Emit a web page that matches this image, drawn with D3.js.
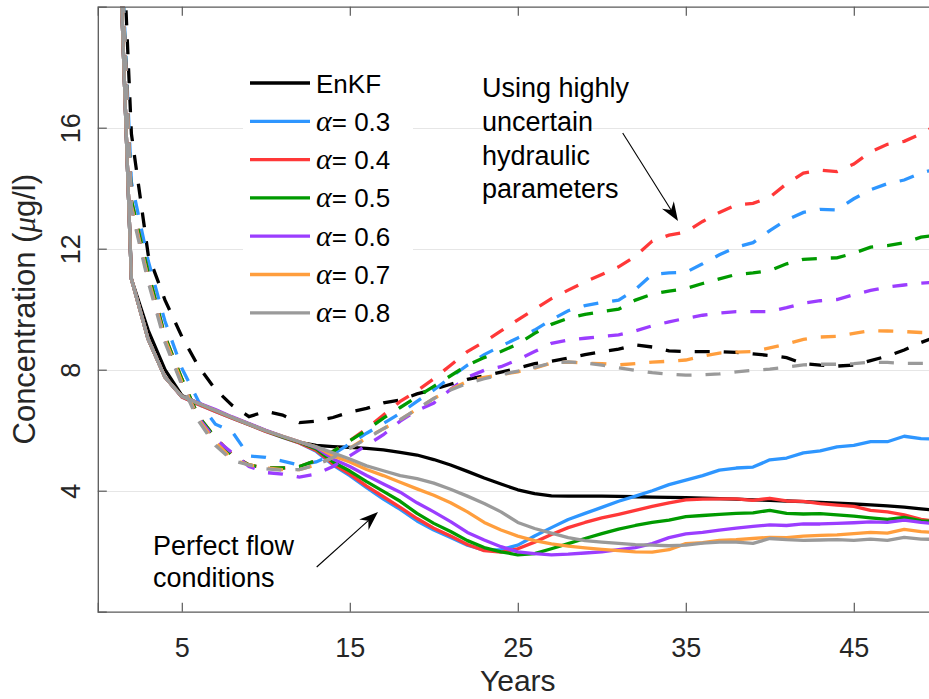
<!DOCTYPE html>
<html>
<head>
<meta charset="utf-8">
<script src="https://cdn.jsdelivr.net/npm/d3@7"></script>
<style>
  html, body { margin: 0; padding: 0; background: #fff; }
  svg { display: block; font-family: "Liberation Sans", Arial, Helvetica, sans-serif; }
</style>
</head>
<body>
<svg id="chart" width="929" height="699"></svg>
<script>
// ---------------- data ----------------
const years = [1,2,3,4,5,6,7,8,9,10,11,12,13,14,15,16,17,18,19,20,21,22,23,24,25,26,27,28,29,30,31,32,33,34,35,36,37,38,39,40,41,42,43,44,45,46,47,48,49,50];

const xTicks = [5, 15, 25, 35, 45];
const yTicks = [4, 8, 12, 16];

const seriesNames = ["EnKF", "α= 0.3", "α= 0.4", "α= 0.5", "α= 0.6", "α= 0.7", "α= 0.8"];
const seriesColors = ["#000000", "#2e96ff", "#ff3838", "#009a00", "#9b3dff", "#ff9e3d", "#9a9a9a"];

// perfect flow conditions (solid)
const enkfPerfect = [26.7,11.0,9.3,8.0,7.15,6.88,6.65,6.42,6.2,5.98,5.78,5.6,5.5,5.46,5.43,5.4,5.35,5.27,5.18,5.03,4.85,4.64,4.42,4.22,4.03,3.9,3.83,3.82,3.82,3.82,3.81,3.8,3.79,3.78,3.77,3.75,3.74,3.72,3.7,3.68,3.66,3.64,3.61,3.59,3.56,3.53,3.5,3.46,3.4,3.35];
const a03Perfect = [26.7,11.0,9.0,7.75,7.1,6.85,6.62,6.4,6.18,5.96,5.76,5.58,5.3,4.85,4.5,4.1,3.72,3.38,3.0,2.7,2.45,2.2,2.03,2.05,2.2,2.5,2.78,3.05,3.25,3.45,3.65,3.82,4.0,4.2,4.35,4.5,4.68,4.75,4.78,5.02,5.08,5.25,5.32,5.45,5.5,5.62,5.62,5.8,5.72,5.7];
const a04Perfect = [26.7,11.0,9.0,7.75,7.1,6.85,6.62,6.4,6.18,5.96,5.77,5.58,5.33,4.88,4.55,4.15,3.8,3.45,3.08,2.76,2.5,2.22,2.02,1.97,2.08,2.3,2.55,2.78,2.95,3.1,3.22,3.35,3.48,3.6,3.7,3.72,3.73,3.73,3.68,3.75,3.66,3.65,3.57,3.52,3.48,3.35,3.3,3.2,3.05,2.98];
const a05Perfect = [26.7,11.0,9.0,7.75,7.12,6.88,6.65,6.42,6.2,5.98,5.78,5.6,5.38,4.95,4.65,4.3,3.98,3.65,3.25,2.92,2.65,2.35,2.12,1.98,1.88,1.92,2.08,2.25,2.42,2.58,2.73,2.85,2.95,3.03,3.14,3.18,3.22,3.25,3.27,3.35,3.25,3.23,3.24,3.2,3.16,3.1,3.05,3.12,3.0,2.98];
const a06Perfect = [26.7,11.0,9.0,7.75,7.12,6.9,6.68,6.44,6.22,6.0,5.8,5.62,5.42,5.05,4.8,4.5,4.22,3.95,3.6,3.3,2.98,2.62,2.37,2.15,1.98,1.92,1.88,1.9,1.94,1.98,2.05,2.12,2.25,2.45,2.57,2.62,2.7,2.76,2.82,2.87,2.85,2.9,2.9,2.92,2.94,2.97,2.95,3.03,2.95,2.9];
const a07Perfect = [26.7,11.0,9.0,7.75,7.12,6.88,6.65,6.42,6.2,5.98,5.8,5.62,5.45,5.15,4.95,4.7,4.5,4.28,4.06,3.85,3.6,3.3,2.95,2.7,2.5,2.35,2.24,2.17,2.11,2.06,2.02,1.98,1.97,2.05,2.25,2.28,2.36,2.38,2.42,2.46,2.45,2.5,2.52,2.54,2.58,2.62,2.6,2.72,2.65,2.61];
const a08Perfect = [26.7,11.0,9.0,7.75,7.12,6.88,6.65,6.42,6.2,5.98,5.8,5.62,5.45,5.25,5.05,4.82,4.66,4.5,4.4,4.25,4.05,3.82,3.58,3.3,2.95,2.75,2.6,2.45,2.35,2.3,2.26,2.22,2.2,2.18,2.2,2.27,2.3,2.3,2.26,2.42,2.38,2.36,2.37,2.38,2.36,2.4,2.36,2.46,2.4,2.39];

// highly uncertain hydraulic parameters (dashed)
const enkfUncertain = [28.5,15.8,11.8,10.3,9.1,8.1,7.35,6.82,6.45,6.62,6.5,6.25,6.3,6.42,6.6,6.72,6.9,7.0,7.2,7.35,7.52,7.68,7.8,7.92,8.05,8.2,8.28,8.38,8.5,8.6,8.68,8.82,8.75,8.62,8.6,8.6,8.6,8.57,8.52,8.47,8.4,8.2,8.15,8.12,8.15,8.3,8.45,8.65,8.9,9.1];
const a03Uncertain = [27,14.2,11.6,9.6,8.05,6.95,6.2,5.95,5.15,5.1,4.98,4.85,4.95,5.2,5.55,5.9,6.22,6.56,6.95,7.33,7.75,8.15,8.5,8.78,9.05,9.31,9.65,9.95,10.12,10.22,10.3,10.65,11.15,11.2,11.22,11.5,11.8,12.05,12.2,12.6,12.95,13.2,13.3,13.28,13.65,13.95,14.15,14.27,14.5,14.65];
const a04Uncertain = [27,13.6,11.2,9.1,7.7,6.45,5.75,5.2,4.85,4.75,4.75,4.8,5.0,5.3,5.65,6.05,6.5,6.95,7.3,7.7,8.15,8.6,8.92,9.28,9.65,10.0,10.35,10.63,10.9,11.15,11.4,11.75,12.25,12.45,12.55,12.9,13.2,13.45,13.5,13.7,14.15,14.5,14.6,14.55,14.8,15.2,15.45,15.55,15.8,16.1];
const a05Uncertain = [27,13.6,11.2,9.1,7.7,6.45,5.75,5.15,4.85,4.75,4.75,4.8,5.0,5.3,5.65,6.0,6.4,6.75,7.1,7.45,7.8,8.15,8.4,8.6,8.85,9.2,9.5,9.7,9.83,9.92,10.0,10.3,10.5,10.6,10.68,10.85,11.0,11.15,11.2,11.28,11.5,11.65,11.68,11.7,11.85,12.05,12.1,12.2,12.38,12.45];
const a06Uncertain = [27,13.4,11.0,9.0,7.55,6.4,5.7,5.25,4.8,4.6,4.55,4.45,4.55,4.8,5.15,5.5,5.85,6.3,6.65,6.9,7.35,7.75,7.98,8.1,8.33,8.6,8.87,8.98,9.04,9.1,9.15,9.28,9.45,9.58,9.7,9.8,9.87,9.92,9.92,9.92,10.05,10.2,10.28,10.32,10.48,10.62,10.73,10.8,10.86,10.9];
const a07Uncertain = [27,13.4,11.0,9.0,7.6,6.35,5.6,5.05,4.85,4.75,4.7,4.7,4.85,5.1,5.4,5.75,6.05,6.35,6.7,7.05,7.35,7.62,7.75,7.84,7.93,8.05,8.22,8.25,8.22,8.2,8.16,8.2,8.25,8.28,8.32,8.45,8.55,8.58,8.6,8.72,8.85,9.0,9.08,9.1,9.2,9.29,9.28,9.26,9.23,9.22];
const a08Uncertain = [27,13.3,10.9,8.9,7.5,6.3,5.5,5.0,4.85,4.72,4.68,4.7,4.85,5.1,5.4,5.72,6.05,6.35,6.7,7.05,7.33,7.55,7.7,7.84,7.95,8.08,8.22,8.26,8.22,8.15,8.06,7.98,7.9,7.85,7.82,7.83,7.86,7.93,7.98,8.02,8.08,8.16,8.18,8.18,8.2,8.25,8.24,8.21,8.21,8.21];

const perfectSeries = [enkfPerfect, a03Perfect, a04Perfect, a05Perfect, a06Perfect, a07Perfect, a08Perfect];
const uncertainSeries = [enkfUncertain, a03Uncertain, a04Uncertain, a05Uncertain, a06Uncertain, a07Uncertain, a08Uncertain];

const annotationTop = ["Using highly", "uncertain", "hydraulic", "parameters"];
const annotationBottom = ["Perfect flow", "conditions"];

// ---------------- layout ----------------
const svg = d3.select("#chart");
const W = 929, H = 699;
const plot = { left: 97.8, right: 937.8, top: 6.7, bottom: 611.7 };
const textColor = "#262626";
const axisColor = "#5a5a5a";

svg.append("rect").attr("width", W).attr("height", H).attr("fill", "#fff");

const x = d3.scaleLinear().domain([0, 50]).range([plot.left, plot.right]);
const y = d3.scaleLinear().domain([0, 20]).range([plot.bottom, plot.top]);

// grid lines (horizontal)
svg.append("g").selectAll("line").data(yTicks).join("line")
  .attr("x1", plot.left).attr("x2", plot.right)
  .attr("y1", d => Math.round(y(d)) + 0.5).attr("y2", d => Math.round(y(d)) + 0.5)
  .attr("stroke", "#e6e6e6").attr("stroke-width", 1.2);

// clip
svg.append("defs").append("clipPath").attr("id", "clip")
  .append("rect").attr("x", plot.left).attr("y", plot.top)
  .attr("width", plot.right - plot.left).attr("height", plot.bottom - plot.top);

const lineGen = d3.line().x((d, i) => x(years[i])).y(d => y(d));

const gLines = svg.append("g").attr("clip-path", "url(#clip)");
const lw = 3.3;
for (let s = 0; s < perfectSeries.length; s++) {
  gLines.append("path").datum(perfectSeries[s])
    .attr("d", lineGen).attr("fill", "none")
    .attr("stroke", seriesColors[s]).attr("stroke-width", lw)
    .attr("stroke-linejoin", "round");
  gLines.append("path").datum(uncertainSeries[s])
    .attr("d", lineGen).attr("fill", "none")
    .attr("stroke", seriesColors[s]).attr("stroke-width", lw)
    .attr("stroke-dasharray", "15,14");
}

// axes (box with inward ticks)
const gAxes = svg.append("g");
const xb = d3.axisBottom(x).tickValues(xTicks).tickSize(-9).tickPadding(16).tickFormat(d3.format("d"));
const gx = gAxes.append("g").attr("transform", `translate(0,${plot.bottom})`).call(xb);
const xt = d3.axisTop(x).tickValues(xTicks).tickSize(-9).tickFormat("");
const gxt = gAxes.append("g").attr("transform", `translate(0,${plot.top})`).call(xt);
const yl = d3.axisLeft(y).tickValues(yTicks).tickSize(-9).tickFormat(d3.format("d"));
const gy = gAxes.append("g").attr("transform", `translate(${plot.left},0)`).call(yl);

[gx, gxt, gy].forEach(g => {
  g.select(".domain").attr("stroke", axisColor).attr("stroke-width", 1.3);
  g.selectAll(".tick line").attr("stroke", axisColor).attr("stroke-width", 1.2);
  g.selectAll("text").attr("fill", textColor).attr("font-size", 27)
    .attr("font-family", "Liberation Sans, Arial, sans-serif");
});
gx.selectAll(".tick text").attr("dy", null).attr("y", 45);
gy.selectAll(".tick text")
  .attr("x", null).attr("dy", null).attr("y", null)
  .attr("text-anchor", "middle")
  .attr("transform", "translate(-18,0) rotate(-90)");

// axis labels
svg.append("text").attr("x", (plot.left + plot.right) / 2).attr("y", 691)
  .attr("text-anchor", "middle").attr("font-size", 30).attr("fill", textColor)
  .text("Years");
const yLab = svg.append("text")
  .attr("transform", `translate(35,${(plot.top + plot.bottom) / 2}) rotate(-90)`)
  .attr("text-anchor", "middle").attr("font-size", 31).attr("fill", textColor);
yLab.append("tspan").text("Concentration (");
yLab.append("tspan").attr("font-family", "Liberation Serif, DejaVu Serif, serif")
  .attr("font-style", "italic").text("μ");
yLab.append("tspan").text("g/l)");

// legend
const leg = svg.append("g");
leg.append("rect").attr("x", 243).attr("y", 60).attr("width", 170).attr("height", 276).attr("fill", "#fff");
const legY0 = 83, legDy = 38.3;
seriesNames.forEach((name, i) => {
  const yy = legY0 + i * legDy;
  leg.append("line").attr("x1", 250).attr("x2", 310).attr("y1", yy).attr("y2", yy)
    .attr("stroke", seriesColors[i]).attr("stroke-width", lw);
  const t = leg.append("text").attr("x", 316).attr("y", yy + 9.5)
    .attr("font-size", 26).attr("fill", "#000");
  if (name.startsWith("α")) {
    t.append("tspan").attr("font-family", "Liberation Serif, DejaVu Serif, serif")
      .attr("font-style", "italic").attr("font-size", 30).text("α");
    t.append("tspan").text(name.slice(1));
  } else {
    t.text(name);
  }
});

// annotations
const annTop = svg.append("text").attr("font-size", 27).attr("fill", "#000");
annotationTop.forEach((s, i) => {
  annTop.append("tspan").attr("x", 482).attr("y", 97 + i * 33.8).text(s);
});
const annBot = svg.append("text").attr("font-size", 27).attr("fill", "#000");
annotationBottom.forEach((s, i) => {
  annBot.append("tspan").attr("x", 153).attr("y", 555 + i * 32).text(s);
});

function arrow(x1, y1, x2, y2) {
  const ang = Math.atan2(y2 - y1, x2 - x1);
  const hl = 19, hw = 7, back = 13;
  const bx = x2 - hl * Math.cos(ang), by = y2 - hl * Math.sin(ang);
  const nx = -Math.sin(ang), ny = Math.cos(ang);
  const nxp = x2 - back * Math.cos(ang), nyp = y2 - back * Math.sin(ang);
  svg.append("line").attr("x1", x1).attr("y1", y1).attr("x2", nxp).attr("y2", nyp)
    .attr("stroke", "#000").attr("stroke-width", 1.1);
  svg.append("path")
    .attr("d", `M${x2},${y2} L${bx + nx * hw},${by + ny * hw} L${nxp},${nyp} L${bx - nx * hw},${by - ny * hw} Z`)
    .attr("fill", "#000");
}
arrow(622.7, 133, 678, 221);
arrow(316.7, 567, 378, 512);
</script>
</body>
</html>
